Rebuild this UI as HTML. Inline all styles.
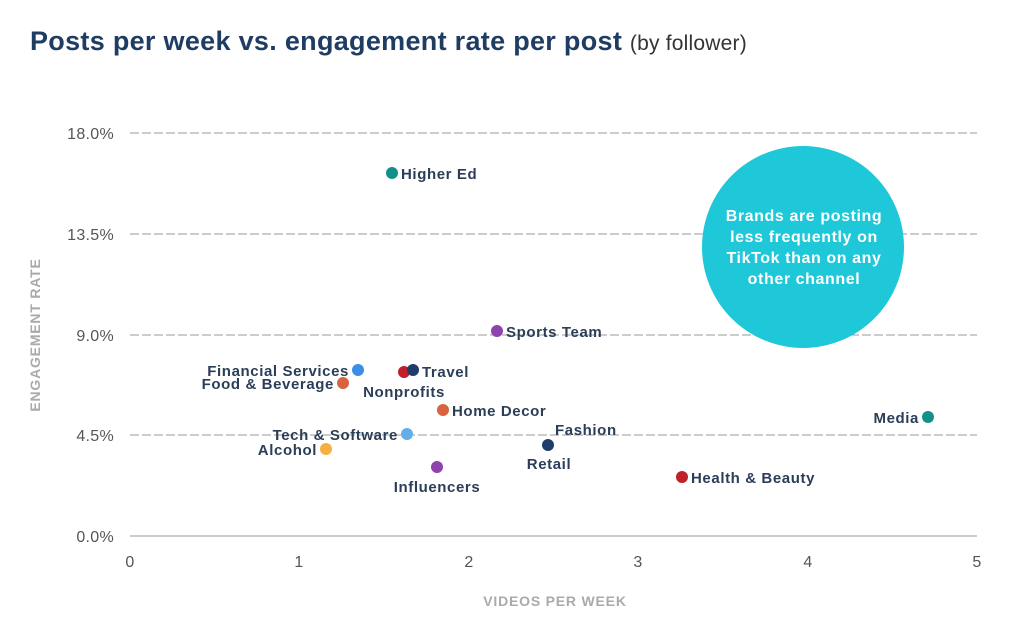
<!DOCTYPE html>
<html><head><meta charset="utf-8"><style>
html,body{margin:0;padding:0;background:#fff;}
svg{display:block;font-family:"Liberation Sans",sans-serif;}
.l{font-size:15px;font-weight:bold;fill:#2b3e57;letter-spacing:0.6px;}
.t{font-size:16px;fill:#555;letter-spacing:0.3px;}
</style></head><body>
<svg width="1024" height="630" viewBox="0 0 1024 630">
<text x="30" y="50" font-size="27" font-weight="bold" fill="#1f3d63" letter-spacing="0.3">Posts per week vs. engagement rate per post <tspan font-weight="normal" font-size="21" fill="#333" letter-spacing="0.2">(by follower)</tspan></text>
<g stroke="#999" stroke-width="1" stroke-dasharray="9,3">
<line x1="130" y1="133" x2="977" y2="133"/>
<line x1="130" y1="234" x2="977" y2="234"/>
<line x1="130" y1="335" x2="977" y2="335"/>
<line x1="130" y1="435" x2="977" y2="435"/>
</g>
<line x1="130" y1="536" x2="977" y2="536" stroke="#999"/>
<g class="t" text-anchor="end">
<text x="114" y="139">18.0%</text><text x="114" y="240">13.5%</text><text x="114" y="341">9.0%</text><text x="114" y="441">4.5%</text><text x="114" y="542">0.0%</text>
</g>
<g class="t" text-anchor="middle">
<text x="130" y="567">0</text><text x="299" y="567">1</text><text x="469" y="567">2</text><text x="638" y="567">3</text><text x="808" y="567">4</text><text x="977" y="567">5</text>
</g>
<text x="555" y="606" text-anchor="middle" font-size="14" font-weight="bold" fill="#aaa" letter-spacing="0.8">VIDEOS PER WEEK</text>
<text transform="translate(40,335) rotate(-90)" text-anchor="middle" font-size="14" font-weight="bold" fill="#aaa" letter-spacing="0.8">ENGAGEMENT RATE</text>
<circle cx="803" cy="247" r="101" fill="#1fc8d8"/>
<g font-size="16" font-weight="bold" fill="#fff" text-anchor="middle" letter-spacing="0.6">
<text x="804" y="221">Brands are posting</text><text x="804" y="242">less frequently on</text><text x="804" y="263">TikTok than on any</text><text x="804" y="284">other channel</text>
</g>
<circle cx="392" cy="173" r="6" fill="#12908a"/><text class="l" x="401" y="179">Higher Ed</text>
<circle cx="497" cy="331" r="6" fill="#8e44ad"/><text class="l" x="506" y="337">Sports Team</text>
<circle cx="358" cy="370" r="6" fill="#3a8ee6"/><text class="l" x="349" y="376" text-anchor="end">Financial Services</text>
<circle cx="343" cy="383" r="6" fill="#d9633f"/><text class="l" x="334" y="389" text-anchor="end">Food &amp; Beverage</text>
<circle cx="404" cy="372" r="6" fill="#c0202a"/>
<circle cx="413" cy="370" r="6" fill="#1f3d6b"/><text class="l" x="422" y="377">Travel</text>
<text class="l" x="404" y="397" text-anchor="middle">Nonprofits</text>
<circle cx="443" cy="410" r="6" fill="#d9633f"/><text class="l" x="452" y="416">Home Decor</text>
<circle cx="407" cy="434" r="6" fill="#63aee8"/><text class="l" x="398" y="440" text-anchor="end">Tech &amp; Software</text>
<circle cx="326" cy="449" r="6" fill="#f5b041"/><text class="l" x="317" y="455" text-anchor="end">Alcohol</text>
<circle cx="437" cy="467" r="6" fill="#8e44ad"/><text class="l" x="437" y="492" text-anchor="middle">Influencers</text>
<circle cx="548" cy="445" r="6" fill="#1f3d6b"/><text class="l" x="555" y="435">Fashion</text><text class="l" x="549" y="469" text-anchor="middle">Retail</text>
<circle cx="682" cy="477" r="6" fill="#c0202a"/><text class="l" x="691" y="483">Health &amp; Beauty</text>
<circle cx="928" cy="417" r="6" fill="#12908a"/><text class="l" x="919" y="423" text-anchor="end">Media</text>
</svg>
</body></html>
